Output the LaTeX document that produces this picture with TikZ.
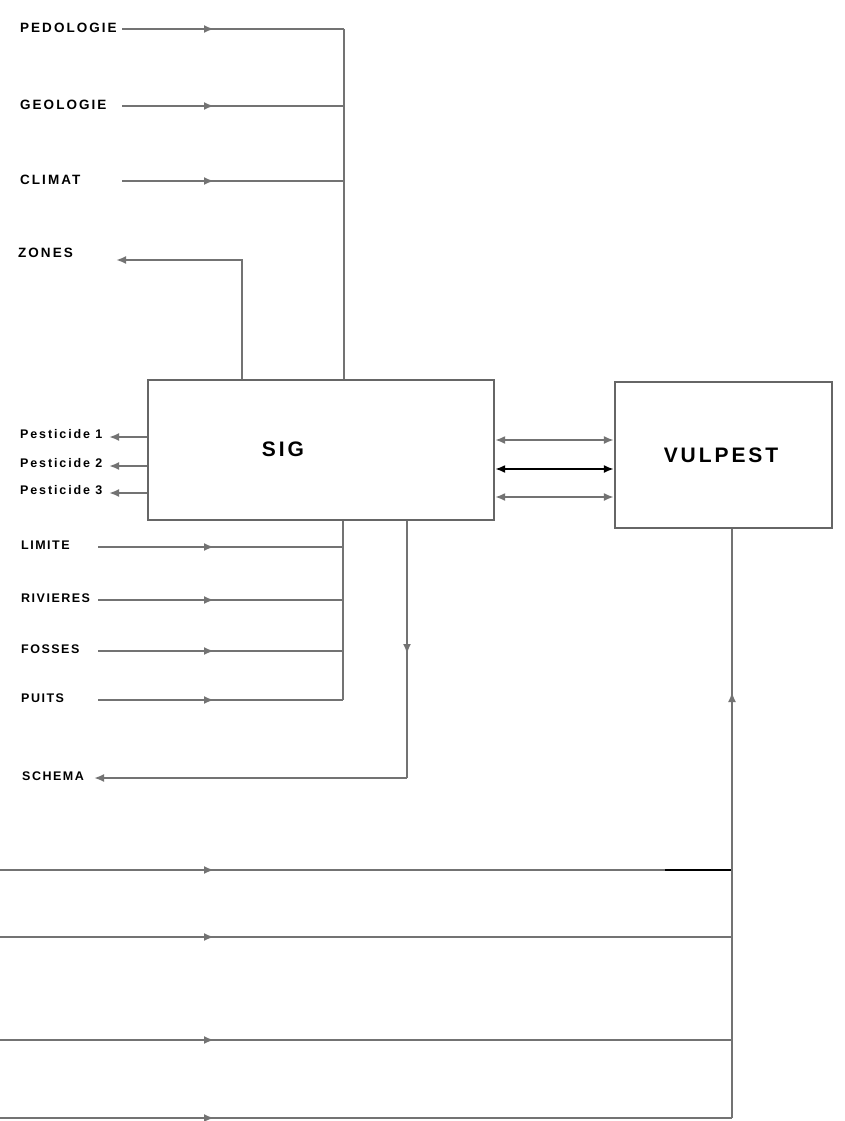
\documentclass[tikz,border=0pt]{standalone}
\usepackage{fontspec}
\setmainfont{Liberation Sans}
\usetikzlibrary{arrows.meta}
\tikzset{
  wire/.style={draw=black!55, line width=2.2pt},
  tip/.style={-{Latex[length=10pt,width=8pt]}},
  both/.style={{Latex[length=10pt,width=8pt]}-{Latex[length=10pt,width=8pt]}},
  lab/.style={anchor=west, inner sep=0pt,
    font=\bfseries\fontsize{13.5}{13.5}\selectfont\addfontfeatures{LetterSpace=15}},
  lowlab/.style={lab,
    font=\bfseries\fontsize{12.5}{12.5}\selectfont\addfontfeatures{LetterSpace=12}},
  pest/.style={anchor=west, inner sep=0pt,
    font=\bfseries\fontsize{12.5}{12.5}\selectfont\addfontfeatures{LetterSpace=15}},
  block/.style={draw=black!60, line width=2.2pt, inner sep=0pt},
  title/.style={inner sep=0pt,
    font=\bfseries\fontsize{21}{21}\selectfont\addfontfeatures{LetterSpace=14}}
}
\begin{document}
\begin{tikzpicture}[x=1pt, y=-1pt]
  \useasboundingbox (0,0) rectangle (844,1121);
  \node[block, minimum width=346pt, minimum height=140pt] (sig) at (321,450) {};
  \node[title] (sigtext) at (283,449) {SIG};
  \node[block, minimum width=217pt, minimum height=146pt] (vulpest) at (723.5,455) {};
  \node[title] (vultext) at (721,455) {VULPEST};
  \coordinate (mid) at (214,0);
  \coordinate (topbus) at (344,29);
  \coordinate (lowbus) at (343,700);
  \coordinate (schemabus) at (407,778);
  \coordinate (vulbus) at (732,1118);
  % inputs above SIG
  \foreach \y/\name in {29/PEDOLOGIE, 106/GEOLOGIE, 181/CLIMAT} {
    \node[lab] (\name) at (20,\y-1) {\name};
    \coordinate (in\name) at (122,\y);
    \draw[wire] (in\name) -- (in\name -| topbus);
    \draw[wire,tip] (in\name) -- (in\name -| mid);
  }
  \draw[wire] (topbus) -- (topbus |- sig.north);
  % zones
  \node[lab] (ZONES) at (18,253) {ZONES};
  \coordinate (zonesend) at (116,260);
  \draw[wire,tip] (sig.north -| 242,0) |- (zonesend);
  % pesticides
  \foreach \y/\n in {437/1, 466/2, 493/3} {
    \node[pest] (pest\n) at (20,\y-3) {Pesticide \n};
    \coordinate (pend\n) at (109,\y);
    \draw[wire,tip] (sig.west |- pend\n) -- (pend\n);
  }
  % inputs below SIG
  \foreach \y/\name in {547/LIMITE, 600/RIVIERES, 651/FOSSES, 700/PUITS} {
    \node[lowlab] (\name) at (21,\y-2) {\name};
    \coordinate (in\name) at (98,\y);
    \draw[wire] (in\name) -- (in\name -| lowbus);
    \draw[wire,tip] (in\name) -- (in\name -| mid);
  }
  \draw[wire] (sig.south -| lowbus) -- (lowbus);
  % schema
  \node[lowlab] (SCHEMA) at (22,776) {SCHEMA};
  \coordinate (schemaend) at (94,778);
  \draw[wire] (sig.south -| schemabus) -- (schemabus);
  \draw[wire,tip] (sig.south -| schemabus) -- (schemabus |- 0,654);
  \draw[wire,tip] (schemabus) -- (schemaend);
  % SIG <-> VULPEST
  \foreach \y/\c in {440/black!55, 469/black, 497/black!55}
    \draw[wire,both,draw=\c] (sig.east |- 0,\y) -- (vulpest.west |- 0,\y);
  % inputs to VULPEST
  \foreach \y in {870, 937, 1040, 1118} {
    \coordinate (vin\y) at (0,\y);
    \draw[wire] (vin\y) -- (vin\y -| vulbus);
    \draw[wire,tip] (vin\y) -- (vin\y -| mid);
  }
  \draw[wire,draw=black] (vin870 -| 665,0) -- (vin870 -| vulbus);
  \draw[wire] (vulbus) -- (vulbus |- vulpest.south);
  \draw[wire,tip] (vulbus) -- (vulbus |- 0,692);
\end{tikzpicture}
\end{document}
